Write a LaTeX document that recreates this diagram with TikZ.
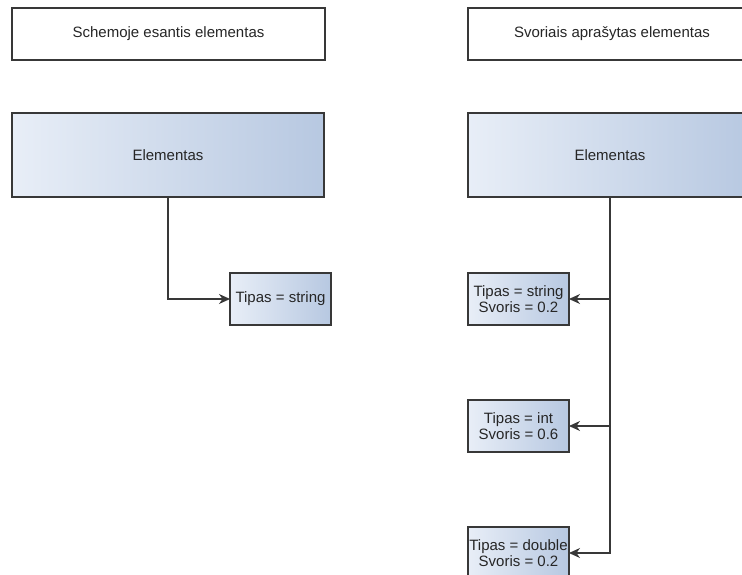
\documentclass[tikz,border=0pt]{standalone}
\usepackage{fontspec}
\setmainfont{Liberation Sans}
\usetikzlibrary{arrows.meta}
\definecolor{edge}{HTML}{383838}
\definecolor{fillL}{HTML}{E8EEF7}
\definecolor{fillR}{HTML}{B7C8E1}
\tikzset{
  base/.style={draw=edge, line width=1.1pt, rectangle, inner sep=0pt, outer sep=0pt,
    align=center, font=\fontsize{15}{16}\selectfont, text=black!85},
  titlebox/.style={base, fill=white},
  mainbox/.style={base, left color=fillL, right color=fillR},
  typebox/.style={base, left color=fillL, right color=fillR, minimum width=101pt, minimum height=52pt},
  link/.style={draw=edge, line width=1.1pt, -{Stealth[length=11pt, width=10pt, inset=3.5pt]}}
}
\begin{document}
\begin{tikzpicture}[x=1pt, y=-1pt]
  \useasboundingbox (0,0) rectangle (742,575);
  \clip (0,0) rectangle (742,575);

  % headings
  \node[titlebox, minimum width=313pt, minimum height=52pt] (head1) at (168.5,34) {Schemoje esantis elementas};
  \node[titlebox, minimum width=288pt, minimum height=52pt] (head2) at (612,34) {Svoriais aprašytas elementas};

  % element boxes
  \node[mainbox, minimum width=312pt, minimum height=84pt] (el1) at (168,155) {Elementas};
  \node[mainbox, minimum width=284pt, minimum height=84pt] (el2) at (610,155) {Elementas};

  % single typed child
  \node[typebox] (t1) at (280.5,299) {Tipas = string};

  % weighted children
  \node[typebox] (s1) at (518.5,299) {Tipas = string\\Svoris = 0.2};
  \node[typebox] (s2) at (518.5,426) {Tipas = int\\Svoris = 0.6};
  \node[typebox] (s3) at (518.5,553) {Tipas = double\\Svoris = 0.2};

  % connectors
  \draw[link] (el1.south) |- (t1.west);
  \draw[link] (el2.south) |- (s1.east);
  \draw[link] (el2.south) |- (s2.east);
  \draw[link] (el2.south) |- (s3.east);
\end{tikzpicture}
\end{document}
